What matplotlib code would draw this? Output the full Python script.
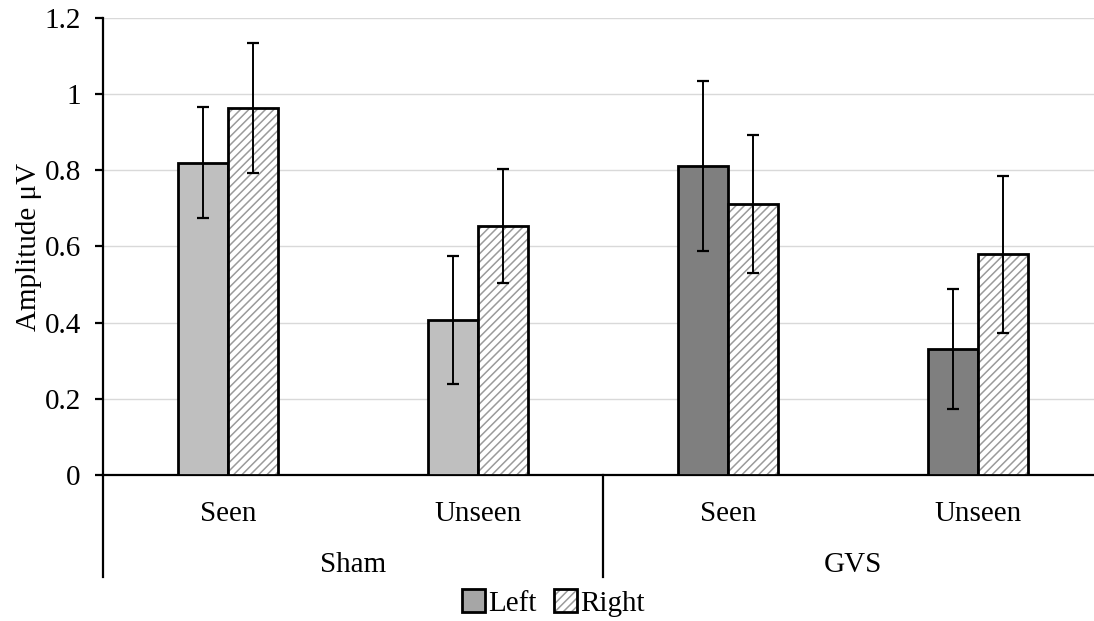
import numpy as np
import matplotlib.pyplot as plt
from matplotlib.patches import Patch
from matplotlib.legend_handler import HandlerTuple

plt.rcParams['font.family'] = ['Liberation Serif', 'DejaVu Serif']
plt.rcParams['hatch.linewidth'] = 1.1

# data
conditions = ['Seen', 'Unseen', 'Seen', 'Unseen']
groups = ['Sham', 'GVS']
left = [0.82, 0.407, 0.811, 0.331]
left_err = [0.146, 0.167, 0.223, 0.157]
right = [0.964, 0.654, 0.712, 0.580]
right_err = [0.17, 0.15, 0.182, 0.206]
left_colors = ['#bfbfbf', '#bfbfbf', '#7f7f7f', '#7f7f7f']

fig = plt.figure(figsize=(10.94, 6.21), dpi=100)
ax = fig.add_axes([103 / 1094, 146 / 621, 1000 / 1094, 457 / 621])

x = np.arange(len(conditions))
w = 0.2

ax.bar(x - w / 2, left, w, color=left_colors, edgecolor='black', linewidth=2, zorder=3)
ax.bar(x + w / 2, right, w, color='white', edgecolor='#9a9a9a', hatch='////', linewidth=0, zorder=3)
ax.bar(x + w / 2, right, w, color='none', edgecolor='black', linewidth=2, zorder=4)
ax.errorbar(x - w / 2, left, yerr=left_err, fmt='none', ecolor='black', elinewidth=1.4,
            capsize=4, capthick=1.6, zorder=5)
ax.errorbar(x + w / 2, right, yerr=right_err, fmt='none', ecolor='black', elinewidth=1.4,
            capsize=4, capthick=1.6, zorder=5)

ax.set_xlim(-0.5, 3.5)
ax.set_ylim(0, 1.2)
ax.set_yticks(np.arange(0, 1.21, 0.2))
ax.set_yticklabels(['0', '0.2', '0.4', '0.6', '0.8', '1', '1.2'])
ax.yaxis.grid(True, color='#d9d9d9', linewidth=1, zorder=0)
ax.set_axisbelow(True)
for s in ['top', 'right']:
    ax.spines[s].set_visible(False)
ax.spines['left'].set_linewidth(1.6)
ax.spines['bottom'].set_linewidth(1.6)
ax.tick_params(axis='y', labelsize=21, length=6, width=1.6, direction='out', pad=10)
ax.set_xticks(x)
ax.set_xticklabels(conditions)
ax.tick_params(axis='x', labelsize=21, length=0, pad=19)
ax.set_ylabel('Amplitude μV', fontsize=21, labelpad=2)

# group labels and separators
trans = ax.get_xaxis_transform()
for i, g in enumerate(groups):
    ax.text(2 * i + 0.5, -0.196, g, transform=trans, ha='center', va='center', fontsize=21)
for sx in [-0.5, 1.5, 3.5]:
    ax.plot([sx, sx], [0, -0.223], transform=trans, color='black', linewidth=1.6, clip_on=False)

h_left = Patch(facecolor='#a6a6a6', edgecolor='black', linewidth=2)
h_r1 = Patch(facecolor='white', edgecolor='#9a9a9a', hatch='////', linewidth=0)
h_r2 = Patch(facecolor='none', edgecolor='black', linewidth=2)
fig.legend([h_left, (h_r1, h_r2)], ['Left', 'Right'], loc='center', bbox_to_anchor=(553 / 1094, 1 - 603 / 621),
           ncol=2, frameon=False, fontsize=21, handlelength=0.8, handleheight=0.8,
           handletextpad=0.1, columnspacing=0.6,
           handler_map={tuple: HandlerTuple(ndivide=1)})

fig.savefig('out.png', dpi=100)
